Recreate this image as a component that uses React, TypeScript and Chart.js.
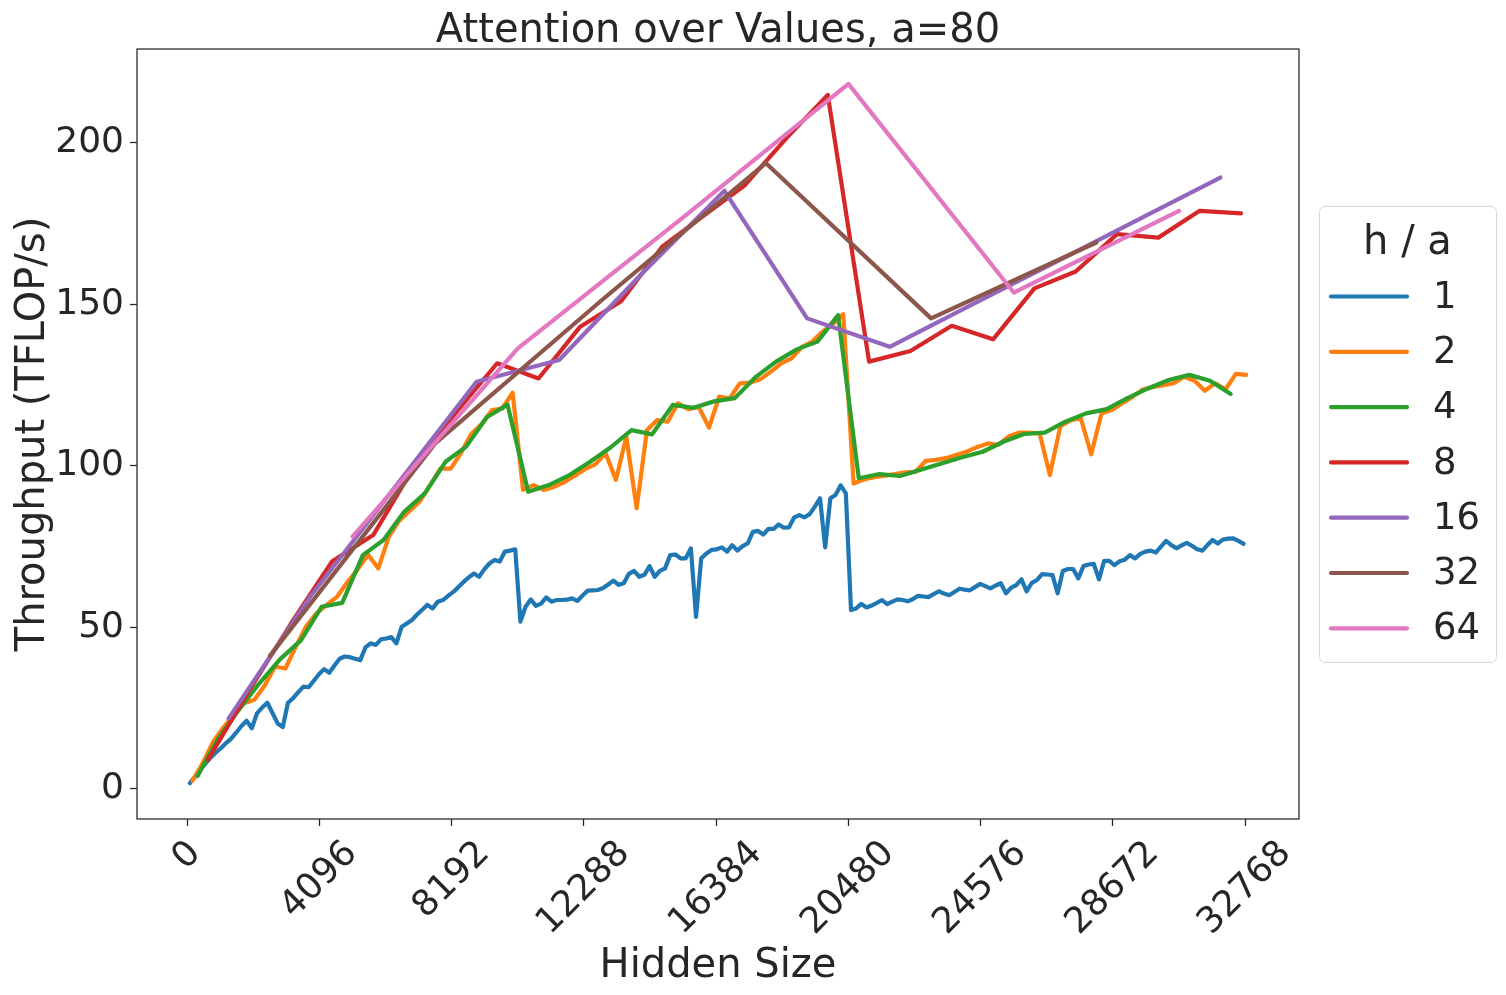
import React, { useEffect, useRef } from "react";
import { Chart, registerables } from "chart.js";

Chart.register(...registerables);

const titleText = "Attention over Values, a=80";
const xAxisTitle = "Hidden Size";
const yAxisTitle = "Throughput (TFLOP/s)";
const legendTitle = "h / a";

const xTicks = [0, 4096, 8192, 12288, 16384, 20480, 24576, 28672, 32768];
const yTicks = [0, 50, 100, 150, 200];

const seriesLabels = ["1", "2", "4", "8", "16", "32", "64"];
const seriesColors = ["#1f77b4", "#ff7f0e", "#2ca02c", "#d62728", "#9467bd", "#8c564b", "#e377c2"];

// hidden sizes: first value and spacing for each series
const seriesStart = [80, 160, 320, 640, 1280, 2560, 5120];
const seriesStep = [160, 320, 640, 1280, 2560, 5120, 5120];

const values1 = [
  1.8, 3.8, 6.0, 7.8, 9.7, 11.2, 12.6, 14.2, 15.6, 17.5,
  19.5, 21.1, 18.8, 23.4, 25.2, 26.7, 23.5, 20.3, 19.2, 26.7,
  28.1, 30.0, 31.7, 31.5, 33.5, 35.5, 37.1, 36.0, 38.2, 40.3,
  41.0, 40.8, 40.3, 39.9, 43.8, 45.1, 44.6, 46.3, 46.6, 47.0,
  45.1, 50.2, 51.2, 52.3, 54.0, 55.5, 57.0, 55.9, 58.0, 58.5,
  59.8, 61.0, 62.5, 64.1, 65.5, 66.7, 65.7, 68.0, 69.8, 70.9,
  70.4, 73.5, 73.8, 74.2, 51.8, 56.4, 58.7, 56.7, 57.4, 59.3,
  58.0, 58.5, 58.5, 58.6, 59.0, 58.2, 59.8, 61.4, 61.5, 61.6,
  62.2, 63.3, 64.5, 63.2, 63.7, 66.6, 67.5, 65.7, 66.3, 69.0,
  65.7, 67.5, 68.3, 72.4, 72.6, 71.4, 71.4, 74.5, 53.3, 71.4,
  72.9, 74.0, 74.2, 74.8, 73.5, 75.5, 73.8, 75.2, 76.0, 79.6,
  79.9, 78.8, 80.5, 80.5, 81.9, 80.9, 81.0, 84.1, 84.8, 84.1,
  85.1, 87.4, 90.0, 74.8, 90.0, 91.0, 94.0, 91.5, 55.4, 55.9,
  57.3, 56.2, 56.8, 57.6, 58.5, 57.2, 58.0, 58.7, 58.5, 58.1,
  58.8, 59.8, 59.6, 59.4, 60.3, 61.2, 60.5, 60.0, 61.0, 62.0,
  61.7, 61.5, 62.5, 63.5, 62.8, 62.1, 63.0, 63.7, 60.6, 62.3,
  63.1, 64.9, 61.2, 63.8, 64.7, 66.5, 66.4, 66.2, 60.6, 67.5,
  68.1, 68.1, 65.2, 69.0, 69.5, 69.7, 64.9, 70.6, 70.6, 69.3,
  70.5, 71.0, 72.4, 71.4, 72.8, 73.5, 73.8, 73.2, 75.0, 76.8,
  75.5, 74.5, 75.4, 76.2, 75.3, 74.2, 73.8, 75.5, 77.1, 76.0,
  77.2, 77.5, 77.6, 76.8, 75.9,
];

const values2 = [
  2.5, 8.0, 14.6, 19.0, 23.0, 26.5, 27.6, 32.0, 37.9, 37.3,
  44.0, 50.3, 54.4, 57.0, 59.5, 64.0, 68.0, 72.5, 68.3, 78.0,
  83.0, 86.0, 89.0, 94.0, 99.2, 99.2, 104.0, 110.0, 113.0, 117.3,
  117.8, 122.7, 92.6, 94.1, 92.6, 93.5, 95.0, 97.0, 99.0, 100.5,
  103.9, 95.7, 109.1, 86.9, 111.1, 114.2, 113.7, 119.4, 117.6, 118.3,
  111.9, 121.5, 120.9, 125.6, 125.8, 126.9, 129.2, 131.8, 133.3, 136.9,
  138.5, 141.6, 144.0, 147.0, 94.6, 95.8, 96.5, 97.0, 97.5, 98.0,
  98.2, 101.6, 101.9, 102.5, 103.5, 104.5, 105.9, 107.0, 106.5, 109.1,
  110.3, 110.3, 110.1, 97.2, 112.2, 114.2, 114.7, 103.6, 116.3, 117.3,
  119.4, 121.4, 123.7, 124.5, 125.0, 125.6, 127.6, 126.4, 123.3, 125.6,
  123.7, 128.5, 128.2,
];

const values4 = [
  4.0, 15.6, 24.5, 32.8, 40.2, 46.0, 56.4, 57.6, 72.4, 77.1,
  85.8, 91.5, 101.3, 106.0, 115.1, 119.0, 92.0, 94.1, 97.2, 101.3,
  105.8, 111.1, 109.8, 118.9, 118.0, 120.0, 121.0, 127.5, 132.3, 136.1,
  138.5, 146.7, 96.2, 97.5, 96.9, 98.8, 100.8, 102.7, 104.4, 107.5,
  109.9, 110.3, 113.7, 116.3, 117.6, 121.0, 124.0, 126.6, 128.2, 126.4,
  122.3,
];

const values8 = [
  9.0, 30.5, 51.0, 70.4, 78.6, 100.0, 116.5, 131.8, 127.1, 143.0,
  151.0, 168.0, 177.5, 187.0, 201.5, 214.9, 132.3, 135.6, 143.4, 139.2,
  155.0, 160.2, 171.8, 170.7, 179.0, 178.2,
];

const values16 = [21.8, 60.0, 93.0, 126.1, 132.8, 159.5, 185.2, 145.7, 136.9, 150.0, 163.0, 176.2, 189.3];

const values32 = [41.2, 107.0, 151.0, 193.8, 145.7, 169.2];

const values64 = [78.1, 136.4, 177.0, 218.3, 153.7, 179.0];

const seriesValues = [values1, values2, values4, values8, values16, values32, values64];

const X_MIN = -1556;
const X_MAX = 34436;
const Y_MIN = -9.3;
const Y_MAX = 229.1;

const FONT = "'DejaVu Sans', 'Liberation Sans', sans-serif";
const INK = "#262626";

export default function App() {
  const canvasRef = useRef<HTMLCanvasElement | null>(null);

  useEffect(() => {
    document.body.style.margin = "0";
    const canvas = canvasRef.current;
    if (!canvas) return;

    const datasets = seriesValues.map((vals, s) => ({
      label: seriesLabels[s],
      data: vals.map((v, i) => ({ x: seriesStart[s] + seriesStep[s] * i, y: v })),
      borderColor: seriesColors[s],
      backgroundColor: seriesColors[s],
      borderWidth: 4.2,
      pointRadius: 0,
      tension: 0,
      fill: false,
      borderJoinStyle: "round" as const,
      borderCapStyle: "round" as const,
      order: seriesValues.length - 1 - s,
    }));

    const decorations = {
      id: "decorations",
      afterDraw(chart: any) {
        const ctx = chart.ctx as CanvasRenderingContext2D;
        const area = chart.chartArea;
        const xs = chart.scales.x;
        ctx.save();
        // frame
        ctx.strokeStyle = INK;
        ctx.lineWidth = 1.25;
        ctx.strokeRect(area.left, area.top, area.right - area.left, area.bottom - area.top);

        ctx.fillStyle = INK;
        // x tick labels, rotated 45 deg, centred under their ticks
        const fs = 36;
        ctx.font = `${fs}px ${FONT}`;
        ctx.textAlign = "center";
        ctx.textBaseline = "middle";
        for (const t of xs.ticks) {
          const label = String(t.value);
          const px = xs.getPixelForValue(t.value);
          const w = ctx.measureText(label).width;
          const h = fs * 1.164;
          const sz = (w + h) / Math.SQRT2;
          const cy = area.bottom + 7 + 7 + sz / 2;
          ctx.save();
          ctx.translate(px, cy);
          ctx.rotate(-Math.PI / 4);
          ctx.fillText(label, 0, 0);
          ctx.restore();
        }

        // title
        const cx = (area.left + area.right) / 2;
        ctx.font = `40px ${FONT}`;
        ctx.textAlign = "center";
        ctx.textBaseline = "alphabetic";
        ctx.fillText(titleText, cx, 42);
        ctx.fillText(xAxisTitle, cx, 977);
        ctx.save();
        ctx.translate(44, (area.top + area.bottom) / 2);
        ctx.rotate(-Math.PI / 2);
        ctx.fillText(yAxisTitle, 0, 0);
        ctx.restore();

        // legend
        const lx = 1319.5, ly = 206.5, lw = 177, lh = 456;
        ctx.beginPath();
        (ctx as any).roundRect(lx, ly, lw, lh, 6);
        ctx.fillStyle = "rgba(255,255,255,0.8)";
        ctx.fill();
        ctx.strokeStyle = "#d6d6d6";
        ctx.lineWidth = 1;
        ctx.stroke();
        ctx.fillStyle = INK;
        ctx.font = `40px ${FONT}`;
        ctx.textAlign = "center";
        ctx.textBaseline = "alphabetic";
        ctx.fillText(legendTitle, 1407.5, 254);
        ctx.font = `37px ${FONT}`;
        ctx.textAlign = "left";
        ctx.textBaseline = "middle";
        seriesLabels.forEach((lab, k) => {
          const y = 296.5 + 55.3 * k;
          ctx.strokeStyle = seriesColors[k];
          ctx.lineWidth = 4.2;
          ctx.lineCap = "round";
          ctx.beginPath();
          ctx.moveTo(1331, y);
          ctx.lineTo(1407, y);
          ctx.stroke();
          ctx.fillStyle = INK;
          ctx.fillText(lab, 1433, y + 1.5);
        });
        ctx.restore();
      },
    };

    const chart = new Chart(canvas, {
      type: "line",
      data: { datasets },
      options: {
        animation: false,
        responsive: false,
        devicePixelRatio: 1,
        layout: { padding: { left: 0, top: 49, right: 207, bottom: 0 } },
        plugins: {
          legend: { display: false },
          title: { display: false },
          tooltip: { enabled: false },
        },
        scales: {
          x: {
            type: "linear",
            min: X_MIN,
            max: X_MAX,
            afterBuildTicks: (scale: any) => {
              scale.ticks = xTicks.map((v) => ({ value: v }));
            },
            afterFit: (scale: any) => {
              scale.height = 176;
            },
            ticks: { display: false },
            grid: {
              display: true,
              drawOnChartArea: false,
              drawTicks: true,
              tickLength: 7,
              tickColor: INK,
              tickWidth: 1.25,
            },
            border: { display: false },
          },
          y: {
            type: "linear",
            min: Y_MIN,
            max: Y_MAX,
            afterBuildTicks: (scale: any) => {
              scale.ticks = yTicks.map((v) => ({ value: v }));
            },
            afterFit: (scale: any) => {
              scale.width = 137;
            },
            ticks: {
              font: { family: FONT, size: 36 },
              color: INK,
              padding: 6,
              callback: (v: any) => String(v),
            },
            grid: {
              display: true,
              drawOnChartArea: false,
              drawTicks: true,
              tickLength: 7,
              tickColor: INK,
              tickWidth: 1.25,
            },
            border: { display: false },
          },
        },
      },
      plugins: [decorations],
    });

    return () => chart.destroy();
  }, []);

  return (
    <div style={{ width: 1506, height: 995, background: "#ffffff" }}>
      <canvas ref={canvasRef} width={1506} height={995} style={{ display: "block" }} />
    </div>
  );
}
